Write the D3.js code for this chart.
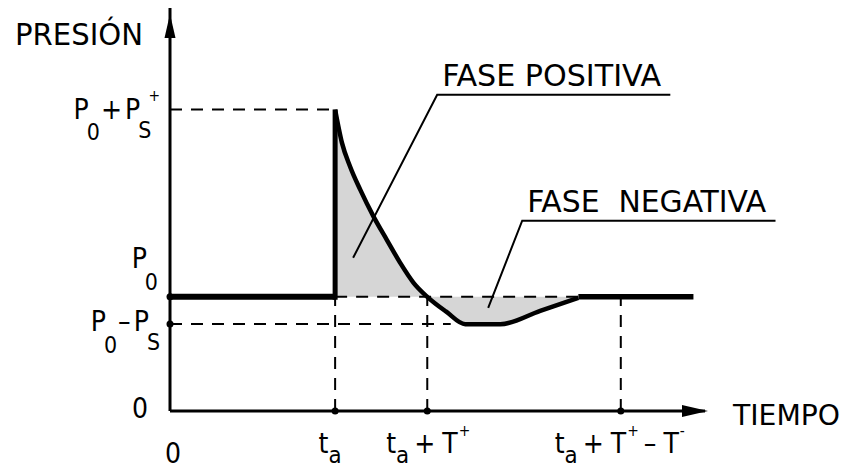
<!DOCTYPE html>
<html>
<head>
<meta charset="utf-8">
<script src="https://cdn.jsdelivr.net/npm/d3@7"></script>
<style>
  body { margin: 0; background: #fff; }
  svg { display: block; }
  text { font-family: "Liberation Sans Narrow", "DejaVu Sans Condensed", "Liberation Sans", sans-serif; fill: #000; }
</style>
</head>
<body>
<svg id="chart" width="843" height="470"></svg>
<script>
// pressure wave (time units, pressure with P0 = 1)
const P0 = 1.0;
const PsPlus = 1.64;
const PsMinus = 0.237;
const ta = 10;
const Tplus = 5.58;
const Tminus = -11.72; // label reads ta + T+ - T-
const waveT = [10, 10.41, 10.91, 11.52, 12.32, 13.13, 13.94, 14.75, 15.58, 16.73, 17.88, 20, 22.42, 24.73];
const waveP = [2.64, 2.351, 2.14, 1.939, 1.705, 1.5, 1.298, 1.123, 1.0, 0.87, 0.76, 0.76, 0.877, 0.991];
const tailT = [24.73, 31.7];

const xTickValues = [0, ta, ta + Tplus, ta + Tplus - Tminus];
const xTickLabels = ["0", "t_a", "t_a + T^+", "t_a + T^+ - T^-"];
const yTickValues = [P0 + PsPlus, P0, P0 - PsMinus, 0];
const yTickLabels = ["P_0 + P_S^+", "P_0", "P_0 - P_S", "0"];

const phaseNames = ["FASE POSITIVA", "FASE  NEGATIVA"];
const phaseFrom = [[11.09, 1.342], [19.27, 0.904]];
const phaseElbow = [[16.18, 2.77], [21.33, 1.667]];
const phaseEnd = [30.3, 36.67];

const svg = d3.select("#chart");

const x = d3.scaleLinear().domain([0, 32.4]).range([170, 705]);
const y = d3.scaleLinear().domain([0, 3.53]).range([411, 8]);

const wave = waveT.map((t, i) => [t, waveP[i]]);

// shaded phases
svg.append("path")
    .datum(wave)
    .attr("fill", "#d6d6d6")
    .attr("d", d3.area()
        .x(d => x(d[0]))
        .y0(y(P0))
        .y1(d => y(d[1]))
        .curve(d3.curveMonotoneX));

// dashed guides
const dash = "12,9";
const guides = [
    [[0, P0 + PsPlus], [ta, P0 + PsPlus]],
    [[0, P0 - PsMinus], [17, P0 - PsMinus]],
    [[ta, P0], [waveT[waveT.length - 1], P0]],
    [[ta, 0], [ta, P0]],
    [[ta + Tplus, 0], [ta + Tplus, P0]],
    [[ta + Tplus - Tminus, 0], [ta + Tplus - Tminus, P0]]
];
svg.selectAll(".guide")
    .data(guides)
    .enter()
    .append("line")
    .attr("class", "guide")
    .attr("x1", d => x(d[0][0]))
    .attr("y1", d => y(d[0][1]))
    .attr("x2", d => x(d[1][0]))
    .attr("y2", d => y(d[1][1]))
    .attr("stroke", "#000")
    .attr("stroke-width", 2)
    .attr("stroke-dasharray", dash);

// axes
svg.append("line")
    .attr("x1", x(0)).attr("y1", y(0))
    .attr("x2", x(0)).attr("y2", y(3.53))
    .attr("stroke", "#000").attr("stroke-width", 3);
svg.append("line")
    .attr("x1", x(0)).attr("y1", y(0))
    .attr("x2", x(32.4)).attr("y2", y(0))
    .attr("stroke", "#000").attr("stroke-width", 3);
svg.append("path")
    .attr("d", `M${x(0)},${y(3.53) + 6} L${x(0) + 5.5},${y(3.53) + 30} L${x(0) - 5.5},${y(3.53) + 30} Z`)
    .attr("fill", "#000");
svg.append("path")
    .attr("d", `M${x(32.4) + 3},${y(0)} L${x(32.4) - 23},${y(0) - 6} L${x(32.4) - 23},${y(0) + 6} Z`)
    .attr("fill", "#000");

// pressure before arrival and the jump
svg.append("path")
    .attr("d", d3.line()([[x(0), y(P0)], [x(ta), y(P0)]]))
    .attr("stroke", "#000").attr("stroke-width", 6).attr("fill", "none");
svg.append("path")
    .attr("d", d3.line()([[x(ta), y(P0) + 3], [x(ta), y(P0 + PsPlus)]]))
    .attr("stroke", "#000").attr("stroke-width", 5).attr("fill", "none");

// wave curve
svg.append("path")
    .datum(wave)
    .attr("d", d3.line().x(d => x(d[0])).y(d => y(d[1])).curve(d3.curveMonotoneX))
    .attr("stroke", "#000").attr("stroke-width", 4.5).attr("fill", "none")
    .attr("stroke-linejoin", "round");
svg.append("path")
    .attr("d", d3.line()(tailT.map(t => [x(t), y(P0)])))
    .attr("stroke", "#000").attr("stroke-width", 5.5).attr("fill", "none");

// dots
const dots = [[0, P0], [0, P0 - PsMinus]].concat(xTickValues.slice(1).map(t => [t, 0]));
svg.selectAll(".dot")
    .data(dots)
    .enter()
    .append("circle")
    .attr("cx", d => x(d[0]))
    .attr("cy", d => y(d[1]))
    .attr("r", 3.5)
    .attr("fill", "#000");

// leaders
phaseNames.forEach((name, i) => {
    const a = phaseFrom[i], b = phaseElbow[i];
    svg.append("path")
        .attr("d", d3.line()([[x(a[0]), y(a[1])], [x(b[0]), y(b[1])], [x(phaseEnd[i]), y(b[1])]]))
        .attr("stroke", "#000").attr("stroke-width", 2).attr("fill", "none");
});

// rich labels: "_" subscript, "^" superscript
function richText(sel, str, size, opGap) {
    const parts = [];
    for (let i = 0; i < str.length; i++) {
        const c = str[i];
        if (c === "_" || c === "^") {
            parts.push({ s: str[i + 1], r: c === "_" ? "sub" : "sup" });
            i++;
        } else if (c !== " ") {
            parts.push({ s: c === "-" ? "\u2013" : c, r: "base" });
        }
    }
    let cur = 0;
    parts.forEach((p, i) => {
        let off = 0, fs = size, gap = 0;
        const prev = parts[i - 1];
        const op = s => s === "+" || s === "\u2013";
        if (p.r === "sub") {
            const lower = p.s === p.s.toLowerCase() && p.s !== "0";
            off = lower ? size * 0.36 : p.s === "S" ? size * 0.68 : size * 0.78;
            fs = lower ? size * 0.85 : size * 0.82;
            gap = lower ? 0 : -2;
        } else if (p.r === "sup") {
            off = -size * 0.62;
            fs = size * 0.55;
            gap = prev && prev.r === "sub" ? -3 : 1;
        } else if (i > 0) {
            if (op(p.s)) gap = 1 + opGap;
            else if (prev && op(prev.s) && prev.r === "base") gap = 3 + opGap;
            else if (prev && prev.r !== "base") gap = 1;
        }
        sel.append("tspan")
            .attr("dx", gap)
            .attr("dy", off - cur)
            .attr("font-size", fs)
            .text(p.s);
        cur = off;
    });
}

const labelSize = 28;
const yLabelOffset = [9, -29, 7, 7];
const yLabelShift = [-10, -12, -10, -22];
yTickValues.forEach((v, i) => {
    const t = svg.append("text")
        .attr("x", x(0) + yLabelShift[i])
        .attr("y", y(v) + yLabelOffset[i])
        .attr("text-anchor", "end")
        .attr("font-size", labelSize);
    richText(t, yTickLabels[i], labelSize, 0);
});

const xLabelOffset = [52, 42, 42, 42];
const xLabelShift = [3, -5, 1, -1];
xTickValues.forEach((v, i) => {
    const t = svg.append("text")
        .attr("x", x(v) + xLabelShift[i])
        .attr("y", y(0) + xLabelOffset[i])
        .attr("text-anchor", "middle")
        .attr("font-size", labelSize);
    richText(t, xTickLabels[i], labelSize, 4);
});

// axis titles
svg.append("text")
    .attr("x", 15).attr("y", 45)
    .attr("font-size", 30)
    .attr("textLength", 128).attr("lengthAdjust", "spacingAndGlyphs")
    .text("PRESIÓN");
svg.append("text")
    .attr("x", x(32.4) + 28).attr("y", y(0) + 14)
    .attr("font-size", 28)
    .attr("textLength", 107).attr("lengthAdjust", "spacingAndGlyphs")
    .text("TIEMPO");

// phase names
const phaseWidth = [219, 239];
phaseNames.forEach((name, i) => {
    svg.append("text")
        .attr("x", x(phaseElbow[i][0]) + 5)
        .attr("y", y(phaseElbow[i][1]) - 9)
        .attr("font-size", 30)
        .attr("textLength", phaseWidth[i]).attr("lengthAdjust", "spacingAndGlyphs")
        .style("white-space", "pre")
        .text(name);
});
</script>
</body>
</html>
